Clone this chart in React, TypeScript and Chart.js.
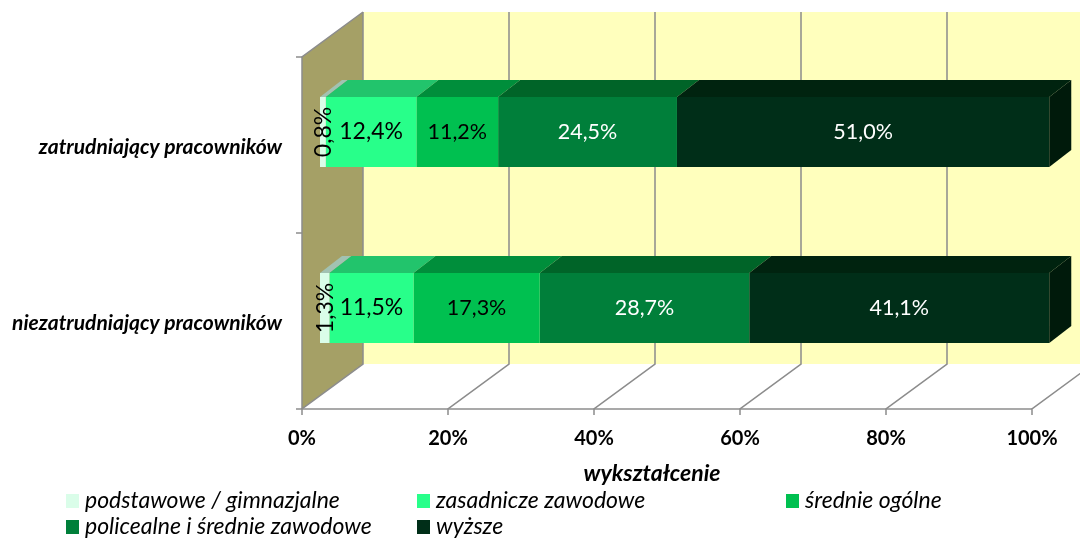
import React, { useEffect, useRef } from "react";
import { Chart, registerables } from "chart.js";

Chart.register(...registerables);

// Categories (rows) and the education-level series, in percent
const categories = ["zatrudniający pracowników", "niezatrudniający pracowników"];
const seriesNames = [
  "podstawowe / gimnazjalne",
  "zasadnicze zawodowe",
  "średnie ogólne",
  "policealne i średnie zawodowe",
  "wyższe",
];
const podstawowe = [0.8, 1.3];
const zasadnicze = [12.4, 11.5];
const srednieOgolne = [11.2, 17.3];
const policealne = [24.5, 28.7];
const wyzsze = [51.0, 41.1];
const seriesValues = [podstawowe, zasadnicze, srednieOgolne, policealne, wyzsze];

const axisTitle = "wykształcenie";
const xTickStep = 20;

// Colours: front faces, top faces, label ink
const frontColors = ["#DAFDE9", "#28FF8A", "#00C050", "#007F3A", "#002E18"];
const topColors = ["#A2C2B2", "#22C46C", "#008E3B", "#006428", "#00230F"];
const sideColor = "#001A0B";
const labelColors = ["#000000", "#000000", "#000000", "#FFFFFF", "#FFFFFF"];
const labelSizes = [23, 23, 21.5, 21.5, 21.5];

const FONT = "Lato, 'Open Sans', sans-serif";

// Depth offsets (pixels) relative to the plane where the bar fronts sit
const FRONT_DX = -18, FRONT_DY = 13;
const BACK_DX = 43, BACK_DY = -32;
const BAR_DX = 22, BAR_DY = -17;

const GRID = "#8C8C8C";

const fmt = (v: number) => v.toFixed(1).replace(".", ",") + "%";

const box3d = {
  id: "box3d",
  beforeDatasetsDraw(chart: any) {
    const { ctx, chartArea: a, scales } = chart;
    const x = scales.x;
    const y = scales.y;
    const tickVals: number[] = x.ticks.map((t: any) => t.value);
    const x0 = x.getPixelForValue(x.min);
    const x1 = x.getPixelForValue(x.max);
    ctx.save();

    // back wall
    ctx.fillStyle = "#FFFFBD";
    ctx.fillRect(x0 + BACK_DX, a.top + BACK_DY, x1 - x0, a.bottom - a.top);

    // left side wall
    ctx.fillStyle = "#A5A066";
    ctx.beginPath();
    ctx.moveTo(x0 + FRONT_DX, a.top + FRONT_DY);
    ctx.lineTo(x0 + BACK_DX, a.top + BACK_DY);
    ctx.lineTo(x0 + BACK_DX, a.bottom + BACK_DY);
    ctx.lineTo(x0 + FRONT_DX, a.bottom + FRONT_DY);
    ctx.closePath();
    ctx.fill();

    // floor
    ctx.fillStyle = "#FFFFFF";
    ctx.beginPath();
    ctx.moveTo(x0 + FRONT_DX, a.bottom + FRONT_DY);
    ctx.lineTo(x1 + FRONT_DX, a.bottom + FRONT_DY);
    ctx.lineTo(x1 + BACK_DX, a.bottom + BACK_DY);
    ctx.lineTo(x0 + BACK_DX, a.bottom + BACK_DY);
    ctx.closePath();
    ctx.fill();

    ctx.strokeStyle = GRID;
    ctx.lineWidth = 1.5;

    // gridlines on back wall and across the floor
    for (const v of tickVals) {
      const px = x.getPixelForValue(v);
      ctx.beginPath();
      ctx.moveTo(px + BACK_DX, a.top + BACK_DY);
      ctx.lineTo(px + BACK_DX, a.bottom + BACK_DY);
      ctx.lineTo(px + FRONT_DX, a.bottom + FRONT_DY);
      ctx.lineTo(px + FRONT_DX, a.bottom + FRONT_DY + 6);
      ctx.stroke();
    }

    // front floor edge
    ctx.beginPath();
    ctx.moveTo(x0 + FRONT_DX, a.bottom + FRONT_DY);
    ctx.lineTo(x1 + FRONT_DX, a.bottom + FRONT_DY);
    ctx.stroke();

    // vertical axis line, top edge of side wall and category ticks
    ctx.beginPath();
    ctx.moveTo(x0 + BACK_DX, a.top + BACK_DY);
    ctx.lineTo(x0 + FRONT_DX, a.top + FRONT_DY);
    ctx.lineTo(x0 + FRONT_DX, a.bottom + FRONT_DY);
    ctx.stroke();
    const bounds = [a.top, a.bottom];
    for (let i = 0; i < categories.length - 1; i++) {
      bounds.push((y.getPixelForValue(i) + y.getPixelForValue(i + 1)) / 2);
    }
    for (const b of bounds) {
      ctx.beginPath();
      ctx.moveTo(x0 + FRONT_DX - 6, b + FRONT_DY);
      ctx.lineTo(x0 + FRONT_DX, b + FRONT_DY);
      ctx.stroke();
    }
    ctx.restore();
  },
  afterDatasetsDraw(chart: any) {
    const { ctx } = chart;
    ctx.save();
    const n = chart.data.datasets.length;
    // top faces and the right end face
    for (let d = 0; d < n; d++) {
      const meta = chart.getDatasetMeta(d);
      meta.data.forEach((el: any) => {
        const l = Math.min(el.base, el.x);
        const r = Math.max(el.base, el.x);
        const t = el.y - el.height / 2;
        const btm = el.y + el.height / 2;
        ctx.fillStyle = topColors[d];
        ctx.beginPath();
        ctx.moveTo(l, t);
        ctx.lineTo(r, t);
        ctx.lineTo(r + BAR_DX, t + BAR_DY);
        ctx.lineTo(l + BAR_DX, t + BAR_DY);
        ctx.closePath();
        ctx.fill();
        if (d === n - 1) {
          ctx.fillStyle = sideColor;
          ctx.beginPath();
          ctx.moveTo(r, t);
          ctx.lineTo(r + BAR_DX, t + BAR_DY);
          ctx.lineTo(r + BAR_DX, btm + BAR_DY);
          ctx.lineTo(r, btm);
          ctx.closePath();
          ctx.fill();
        }
      });
    }
    // value labels
    for (let d = 0; d < n; d++) {
      const meta = chart.getDatasetMeta(d);
      const data = chart.data.datasets[d].data as number[];
      meta.data.forEach((el: any, i: number) => {
        const cx = (el.base + el.x) / 2;
        const cy = el.y;
        const v = data[i];
        ctx.fillStyle = labelColors[d];
        ctx.font = `${labelSizes[d]}px ${FONT}`;
        ctx.textAlign = "center";
        ctx.textBaseline = "middle";
        if (v < 2) {
          ctx.save();
          ctx.translate(cx + 1, cy);
          ctx.rotate(-Math.PI / 2);
          ctx.fillText(fmt(v), 0, 0);
          ctx.restore();
        } else {
          ctx.fillText(fmt(v), cx, cy);
        }
      });
    }
    ctx.restore();
  },
  afterDraw(chart: any) {
    const { ctx } = chart;
    ctx.save();
    // axis title
    ctx.fillStyle = "#000";
    ctx.font = `italic bold 23px ${FONT}`;
    ctx.textAlign = "center";
    ctx.textBaseline = "alphabetic";
    ctx.fillText(axisTitle, 652, 481);

    // legend
    const colX = [66, 417, 786];
    const rowY = [508, 534];
    ctx.font = `italic 23px ${FONT}`;
    ctx.textAlign = "left";
    chart.data.datasets.forEach((ds: any, i: number) => {
      const col = i % 3;
      const row = Math.floor(i / 3);
      const bx = colX[col];
      const by = rowY[row];
      ctx.fillStyle = ds.backgroundColor;
      ctx.fillRect(bx, by - 14, 13, 14);
      ctx.fillStyle = "#000";
      ctx.fillText(ds.label, bx + 19, by);
    });
    ctx.restore();
  },
};

export default function App() {
  const ref = useRef<HTMLCanvasElement | null>(null);

  useEffect(() => {
    if (!ref.current) return;
    const chart = new Chart(ref.current, {
      type: "bar",
      data: {
        labels: categories,
        datasets: seriesNames.map((name, i) => ({
          label: name,
          data: seriesValues[i],
          backgroundColor: frontColors[i],
          borderWidth: 0,
          categoryPercentage: 1,
          barPercentage: 0.398,
        })),
      },
      options: {
        indexAxis: "y",
        responsive: false,
        animation: false,
        layout: { padding: { top: 44, right: 30, left: 0, bottom: 0 } },
        plugins: {
          legend: { display: false },
          tooltip: { enabled: false },
          title: { display: false },
        },
        scales: {
          x: {
            stacked: true,
            min: 0,
            max: 100,
            ticks: {
              stepSize: xTickStep,
              callback: (v: any) => v + "%",
              labelOffset: FRONT_DX,
              padding: 31,
              color: "#000",
              font: { family: FONT, weight: "bold", size: 20 },
            },
            grid: { display: false, drawTicks: false },
            border: { display: false },
            afterFit: (s: any) => {
              s.height = 142;
              s.paddingLeft = 0;
              s.paddingRight = 0;
            },
          },
          y: {
            stacked: true,
            ticks: {
              padding: 38,
              labelOffset: FRONT_DY + 2,
              color: "#000",
              font: { family: FONT, weight: "bold", style: "italic", size: 21 },
            },
            grid: { display: false, drawTicks: false },
            border: { display: false },
            afterFit: (s: any) => {
              s.width = 320;
              s.paddingTop = 0;
              s.paddingBottom = 0;
            },
          },
        },
      },
      plugins: [box3d],
    });
    return () => chart.destroy();
  }, []);

  return (
    <div style={{ position: "fixed", left: 0, top: 0, width: 1080, height: 538, background: "#fff" }}>
      <canvas ref={ref} width={1080} height={538} style={{ display: "block" }} />
    </div>
  );
}
